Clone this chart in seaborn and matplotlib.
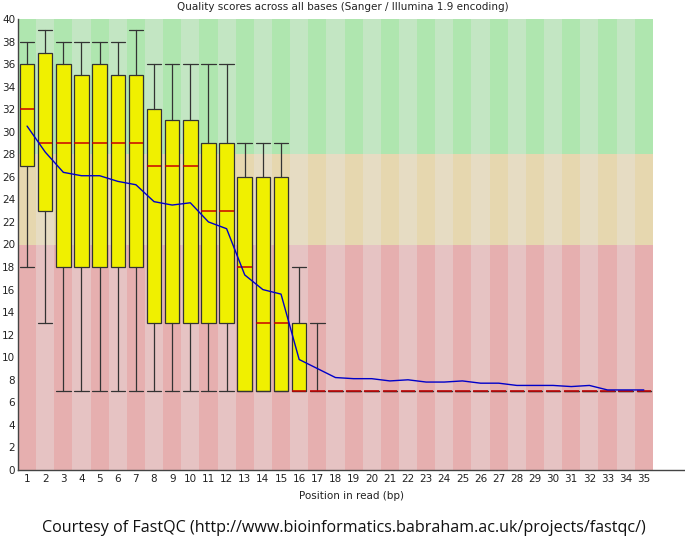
import pandas as pd
import matplotlib.pyplot as plt
import seaborn as sns

# Per-position quality summary
positions = list(range(1, 36))
whisker_low = [18, 13, 7, 7, 7, 7, 7, 7, 7, 7, 7, 7, 7, 7, 7, 7, 7, 7,
               7, 7, 7, 7, 7, 7, 7, 7, 7, 7, 7, 7, 7, 7, 7, 7, 7]
lower_quartile = [27, 23, 18, 18, 18, 18, 18, 13, 13, 13, 13, 13, 7, 7, 7, 7, 7, 7,
                  7, 7, 7, 7, 7, 7, 7, 7, 7, 7, 7, 7, 7, 7, 7, 7, 7]
median = [32, 29, 29, 29, 29, 29, 29, 27, 27, 27, 23, 23, 18, 13, 13, 7, 7, 7,
          7, 7, 7, 7, 7, 7, 7, 7, 7, 7, 7, 7, 7, 7, 7, 7, 7]
upper_quartile = [36, 37, 36, 35, 36, 35, 35, 32, 31, 31, 29, 29, 26, 26, 26, 13, 7, 7,
                  7, 7, 7, 7, 7, 7, 7, 7, 7, 7, 7, 7, 7, 7, 7, 7, 7]
whisker_high = [38, 39, 38, 38, 38, 38, 39, 36, 36, 36, 36, 36, 29, 29, 29, 18, 13, 7,
                7, 7, 7, 7, 7, 7, 7, 7, 7, 7, 7, 7, 7, 7, 7, 7, 7]
mean_quality = [30.5, 28.2, 26.4, 26.1, 26.1, 25.6, 25.3, 23.8, 23.5, 23.7, 22.0, 21.4,
                17.3, 16.0, 15.6, 9.8, 9.0, 8.2, 8.1, 8.1, 7.9, 8.0, 7.8, 7.8, 7.9,
                7.7, 7.7, 7.5, 7.5, 7.5, 7.4, 7.5, 7.1, 7.1, 7.1]

# Quality bands: (low, high, dark stripe, light stripe)
bands = [
    (0, 20, (230/255, 175/255, 175/255), (230/255, 195/255, 195/255)),
    (20, 28, (230/255, 215/255, 175/255), (230/255, 220/255, 195/255)),
    (28, 40, (175/255, 230/255, 175/255), (195/255, 230/255, 195/255)),
]

df = pd.DataFrame({"position": positions, "mean": mean_quality})

sns.set_theme(style="white")
plt.rcParams['font.family'] = ['DejaVu Sans']

fig = plt.figure(figsize=(6.85, 5.49), dpi=100)
ax = fig.add_axes([18/685, 79/549, 667/685, 451/549])
ymax = 40

for p in positions:
    for lo, hi, dark, light in bands:
        ax.axvspan(p - 0.5, p + 0.5, ymin=lo/ymax, ymax=hi/ymax,
                   color=dark if p % 2 == 1 else light, lw=0, zorder=0)

stats = [dict(med=m, q1=a, q3=b, whislo=lo, whishi=hi, fliers=[])
         for m, a, b, lo, hi in zip(median, lower_quartile, upper_quartile,
                                    whisker_low, whisker_high)]
ax.bxp(stats, positions=positions, widths=0.8, capwidths=0.8, patch_artist=True,
       boxprops=dict(facecolor=(240/255, 240/255, 0), edgecolor='#333333', lw=0.9),
       whiskerprops=dict(color='#333333', lw=0.9),
       capprops=dict(color='#333333', lw=0.9),
       medianprops=dict(color=(200/255, 0, 0), lw=1.1),
       showfliers=False, zorder=3)

sns.lineplot(data=df, x="position", y="mean", color=(0, 0, 200/255), lw=1.0,
             ax=ax, zorder=5)

ax.set_xlim(0.5, 37.27)
ax.set_ylim(0, ymax)
ax.set_xticks(positions)
ax.set_xticklabels([str(p) for p in positions])
ax.set_yticks(range(0, 41, 2))
ax.tick_params(axis='both', length=0, labelsize=7.5, colors='#222222', pad=3)
ax.tick_params(axis='y', pad=2)
for s in ['top', 'right']:
    ax.spines[s].set_visible(False)
for s in ['left', 'bottom']:
    ax.spines[s].set_color('#444444')
    ax.spines[s].set_linewidth(1.0)

ax.set_xlabel("Position in read (bp)", fontsize=7.5, color='#222222', labelpad=5)
ax.set_ylabel("")
fig.text(0.5, 1 - 7/549, "Quality scores across all bases (Sanger / Illumina 1.9 encoding)",
         ha='center', va='center', fontsize=7.5, color='#222222')
fig.text(344/685, 1 - 528/549,
         "Courtesy of FastQC (http://www.bioinformatics.babraham.ac.uk/projects/fastqc/)",
         ha='center', va='center', fontsize=11.6, color='#111111', family=['Open Sans'])

fig.savefig("out.png", dpi=100)
